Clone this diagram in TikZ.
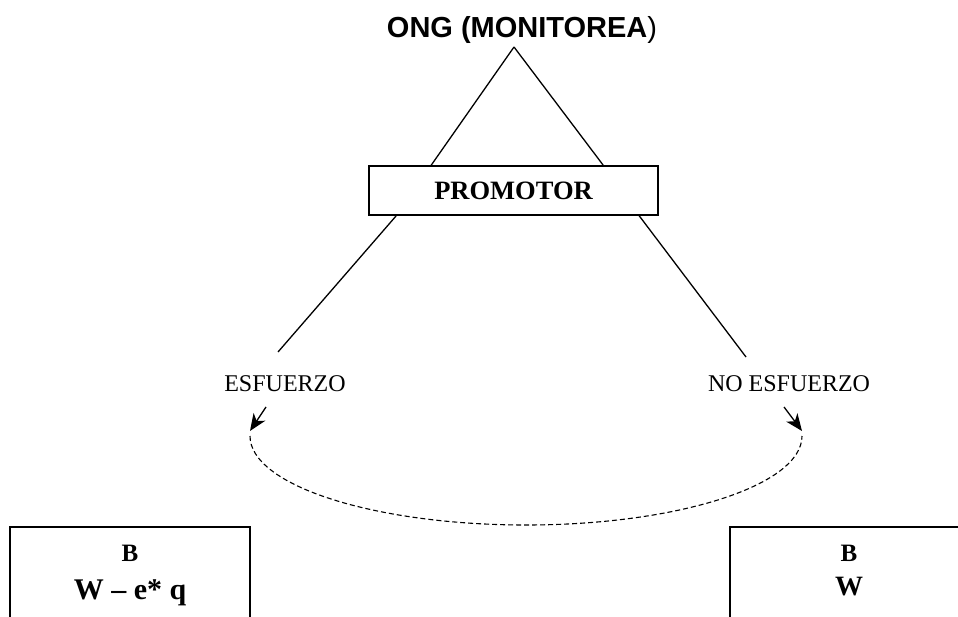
\documentclass[tikz,border=0pt]{standalone}
\usepackage{fontspec}
\setmainfont{Liberation Serif}
\setsansfont{Liberation Sans}
\usetikzlibrary{arrows.meta,calc}
\begin{document}
\begin{tikzpicture}[x=1pt,y=-1pt,
  thinline/.style={line width=1.3pt, black},
  boxline/.style={line width=1.6pt, black},
  lbl/.style={inner sep=0pt, font=\fontsize{24}{26}\selectfont},
  boxtxt/.style={inner sep=0pt, font=\bfseries\fontsize{25}{27}\selectfont},
  bigtxt/.style={inner sep=0pt, font=\bfseries\fontsize{30}{32}\selectfont},
  arr/.style={line width=1.3pt, -{Stealth[length=17pt,width=14pt,inset=5pt]}},
  dashline/.style={line width=1.1pt, dash pattern=on 5pt off 3pt}]
\useasboundingbox (0,0) rectangle (958,617);
% title
\node[inner sep=0pt, font=\sffamily\bfseries\fontsize{29}{31}\selectfont] (ong) at (522,30) {ONG (MONITOREA\textmd{)}};
\coordinate (apex) at (514,47);
% promotor box
\node[draw, boxline, minimum width=289pt, minimum height=49pt, inner sep=0pt, font=\bfseries\fontsize{26.5}{28}\selectfont] (prom) at (513.5,190.5) {PROMOTOR};
\draw[thinline] (apex) -- ($(prom.north west)+(63,0)$);
\draw[thinline] (apex) -- ($(prom.north west)+(235,0)$);
% labels
\node[lbl] (esf) at (285,383.5) {ESFUERZO};
\node[lbl] (noesf) at (789,383.5) {NO ESFUERZO};
\coordinate (lend) at (278,352);
\coordinate (rend) at (746,357);
\draw[thinline] ($(prom.south west)+(28,0)$) -- (lend);
\draw[thinline] ($(prom.south west)+(271,0)$) -- (rend);
% arrows
\coordinate (la0) at (266,407);
\coordinate (la1) at (250,431);
\coordinate (ra0) at (784,407);
\coordinate (ra1) at (802,431);
\draw[arr] (la0) -- (la1);
\draw[arr] (ra0) -- (ra1);
% dashed curve
\draw[dashline] (250,436) arc[start angle=180, end angle=0, x radius=276, y radius=89];
% boxes
\draw[boxline] (10,618) -- (10,527) -- (250,527) -- (250,618);
\draw[boxline] (730,618) -- (730,527) -- (960,527);
\node[boxtxt] (lb) at (130,553) {B};
\node[bigtxt, anchor=base] (lw) at (130,599) {W – e* q};
\node[boxtxt] (rb) at (849,553) {B};
\node[boxtxt, font=\bfseries\fontsize{28}{30}\selectfont, anchor=base] (rw) at (849,595) {W};
\end{tikzpicture}
\end{document}
